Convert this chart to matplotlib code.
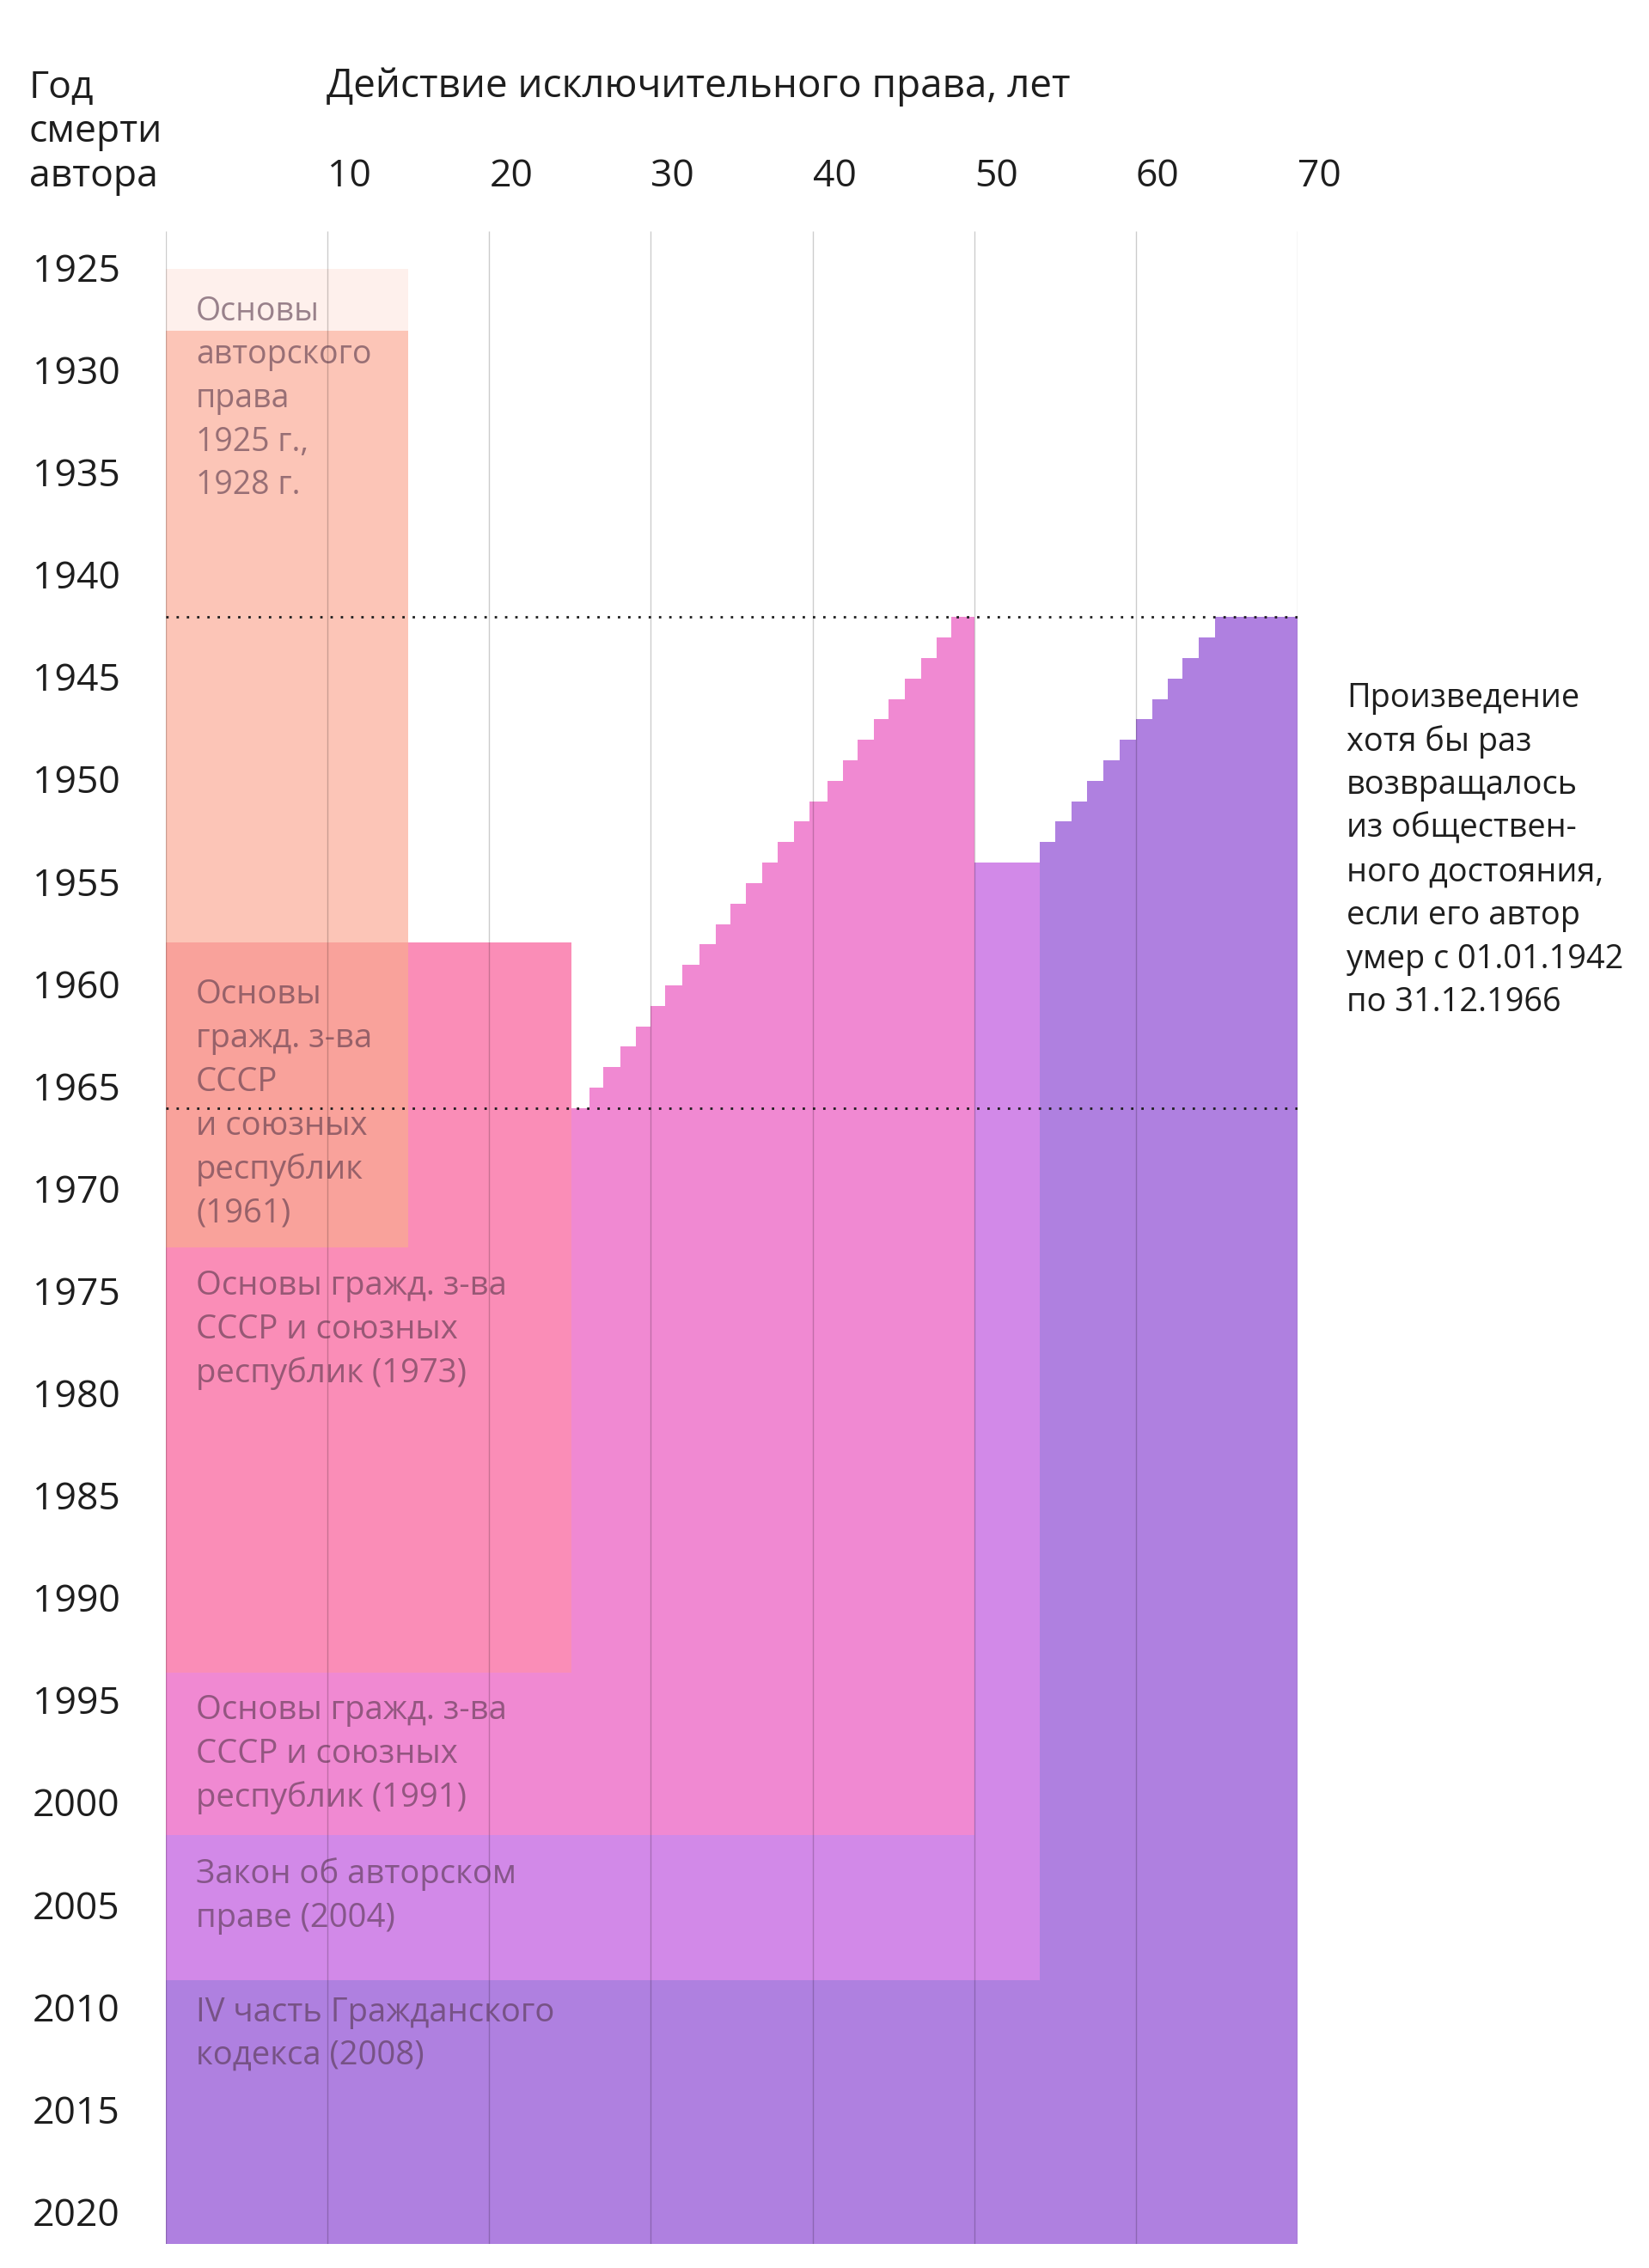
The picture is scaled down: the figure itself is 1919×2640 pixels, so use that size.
import matplotlib
matplotlib.use('Agg')
import matplotlib.pyplot as plt

W, H = 1919, 2640
plt.rcParams['font.family'] = ['Open Sans', 'DejaVu Sans']

# ---------------- data ----------------
year_ticks = [1925, 1930, 1935, 1940, 1945, 1950, 1955, 1960, 1965, 1970,
              1975, 1980, 1985, 1990, 1995, 2000, 2005, 2010, 2015, 2020]
term_ticks = [10, 20, 30, 40, 50, 60, 70]
grid_terms = [0, 10, 20, 30, 40, 50, 60, 70]

chart_years = (1923.14, 2021.5)      # visible range of death years
term_range = (0, 70)

# 1925 / 1928 laws: 15 years
law1925_term, law1925_years = 15, (1925, 1928)
law1928_term, law1928_years = 15, (1928, 1957.9)
# 1961 law: 15 years
law1961_term, law1961_years = 15, (1957.9, 1972.8)
# 1973 law: 25 years
law1973_term, law1973_years = 25.1, (1957.9, 1993.6)
# 1991 law: 50 years, restored works for deaths 1942-1965
law1991_term, law1991_years = 50, (1966, 2001.5)
law1991_restored_years = [1942, 1943, 1944, 1945, 1946, 1947, 1948, 1949,
                          1950, 1951, 1952, 1953, 1954, 1955, 1956, 1957,
                          1958, 1959, 1960, 1961, 1962, 1963, 1964, 1965]
law1991_restored_from = [48.6, 47.7, 46.7, 45.7, 44.7, 43.8, 42.8, 41.9,
                         40.9, 39.8, 38.85, 37.85, 36.9, 35.9, 34.9, 34.0,
                         33.0, 31.95, 30.9, 30.0, 29.1, 28.1, 27.05, 26.2]
# 2004 law: extends beyond 50 years for deaths from 1954
law2004_term, law2004_years = 54.05, (1954, 2008.6)
# 2008 law (Civil code part IV): 70 years
law2008_term, law2008_years = 70, (2008.6, 2021.5)
law2008_restored_years = [1942, 1943, 1944, 1945, 1946, 1947, 1948, 1949,
                          1950, 1951, 1952, 1953]
law2008_restored_from = [64.9, 63.9, 62.9, 62.0, 61.0, 60.0, 59.0, 58.0,
                         57.0, 56.0, 55.0, 54.05]

return_period = (1942, 1966)

# colours
c1925 = '#FEF0EC'
c1928 = '#FCC5B7'
c1961 = '#F9A29B'
c1973 = '#FA8DB7'
c1991 = '#F089D2'
c2004 = '#D289E8'
c2008 = '#AF80E0'

label_1925 = ['Основы', 'авторского', 'права', '1925 г.,', '1928 г.']
label_1961 = ['Основы', 'гражд. з-ва', 'СССР', 'и союзных', 'республик', '(1961)']
label_1973 = ['Основы гражд. з-ва', 'СССР и союзных', 'республик (1973)']
label_1991 = ['Основы гражд. з-ва', 'СССР и союзных', 'республик (1991)']
label_2004 = ['Закон об авторском', 'праве (2004)']
label_2008 = ['IV часть Гражданского', 'кодекса (2008)']
note_lines = ['Произведение', 'хотя бы раз', 'возвращалось', 'из обществен-',
              'ного достояния,', 'если его автор', 'умер с 01.01.1942',
              'по 31.12.1966']
ylabel_lines = ['Год', 'смерти', 'автора']
xlabel = 'Действие исключительного права, лет'

# ---------------- figure ----------------
fig = plt.figure(figsize=(W / 100, H / 100), dpi=100)
fig.patch.set_facecolor('white')
ax_left, ax_right, ax_top, ax_bot = 193, 1510, 269, 2612
ax = fig.add_axes([ax_left / W, 1 - ax_bot / H, (ax_right - ax_left) / W,
                   (ax_bot - ax_top) / H])
ax.set_xlim(*term_range)
ax.set_ylim(chart_years[1], chart_years[0])
ax.axis('off')


def rect(term, years, color, z):
    ax.fill_betweenx([years[0], years[1]], 0, term, color=color,
                     linewidth=0, zorder=z)


# 2008 law
y08 = law2008_restored_years + [law2004_years[0], law2008_years[0], law2008_years[1]]
x08 = law2008_restored_from + [law2004_term, 0, 0]
ax.fill_betweenx(y08, x08, law2008_term, step='post', color=c2008,
                 linewidth=0, zorder=1)
# 2004 law (visible beyond the 50-year term from 1954, full width later)
y04 = [law2004_years[0], law1991_years[0], law2004_years[1]]
x04 = [law1991_term, 0, 0]
ax.fill_betweenx(y04, x04, law2004_term, step='post', color=c2004,
                 linewidth=0, zorder=2)
# 1991 law
y91 = law1991_restored_years + [law1991_years[0], law1991_years[1]]
x91 = law1991_restored_from + [0, 0]
ax.fill_betweenx(y91, x91, law1991_term, step='post', color=c1991,
                 linewidth=0, zorder=3)
# 1973, 1961, 1928, 1925
rect(law1973_term, law1973_years, c1973, 4)
rect(law1961_term, law1961_years, c1961, 5)
rect(law1928_term, law1928_years, c1928, 6)
rect(law1925_term, law1925_years, c1925, 6)

# grid
ax.vlines(grid_terms, chart_years[0], chart_years[1], colors='black',
          alpha=0.2, linewidth=1.0, zorder=8)
# dotted lines for return period
ax.hlines(return_period, term_range[0], term_range[1], colors='#1e1e1e',
          linewidth=2.0, linestyles=(0, (1, 3.3)), zorder=9)


def ptext(x, y, s, size, color='#1e1e1e', alpha=1.0, **kw):
    fig.text(x / W, 1 - y / H, s, fontsize=size, color=color, alpha=alpha,
             va='baseline', ha='left', **kw)


def block(lines, x, y0, pitch, size, **kw):
    for i, s in enumerate(lines):
        ptext(x, y0 + i * pitch, s, size, **kw)


# axis titles
block(ylabel_lines, 34, 114, 51.5, 32)
ptext(380, 113, xlabel, 33)

# x tick labels (left aligned at gridline)
for t in term_ticks:
    ax.text(t, 1920.97, str(t), fontsize=32, color='#1e1e1e', ha='left',
            va='baseline', clip_on=False)
# y tick labels (centred on their year, nudged to match the reference)
ytr = ax.get_yaxis_transform()
for yv in year_ticks:
    ax.text(-0.118, yv + 0.14, str(yv), fontsize=32, color='#1e1e1e',
            ha='left', va='center', transform=ytr, clip_on=False)

# law labels
lab_kw = dict(color='#503246', alpha=0.58)
block(label_1925, 228, 373, 50.5, 27, **lab_kw)
block(label_1961, 228, 1168, 51, 27.5, **lab_kw)
block(label_1973, 228, 1507, 51, 27.5, **lab_kw)
block(label_1991, 228, 2001, 51, 27.5, **lab_kw)
block(label_2004, 228, 2192, 51, 27.5, **lab_kw)
block(label_2008, 228, 2353, 50, 27.5, **lab_kw)

# note
block(note_lines, 1567, 823, 50.6, 27.3)

fig.savefig('out.png', dpi=100, facecolor='white')
